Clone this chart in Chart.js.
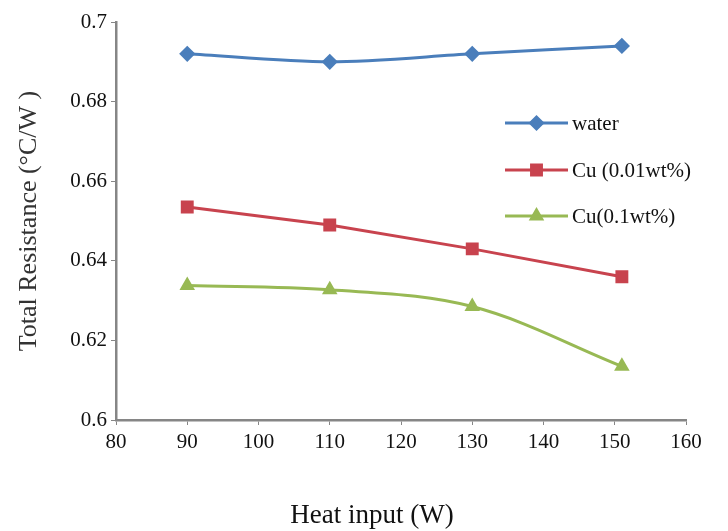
<!DOCTYPE html>
<html lang="en">
<head>
  <meta charset="UTF-8">
  <title>Total Resistance vs Heat input</title>
  <script src="https://cdn.jsdelivr.net/npm/chart.js"></script>
  <style>
    html, body { margin: 0; padding: 0; background: #fff; }
    #wrap { width: 728px; height: 531px; }
  </style>
</head>
<body>
  <div id="wrap"><canvas id="resistanceChart"></canvas></div>
  <script>
    // heat input (W)
    const heatInput = [90, 110, 130, 151];
    // total resistance (°C/W)
    const water = [0.692, 0.690, 0.692, 0.694];
    const cu001 = [0.6535, 0.649, 0.643, 0.636];
    const cu01 = [0.6338, 0.6327, 0.6285, 0.6135];
    const seriesNames = ['water', 'Cu (0.01wt%)', 'Cu(0.1wt%)'];
    const xTitle = 'Heat input (W)';
    const yTitle = 'Total Resistance (°C/W )';

    const toPoints = (vals) => vals.map((v, i) => ({ x: heatInput[i], y: v }));
    const axisGray = '#868686';
    const serif = '"Liberation Serif", "Times New Roman", serif';

    // legend drawn inside the plot, right side
    const insideLegend = {
      id: 'insideLegend',
      afterDraw(chart) {
        const ctx = chart.ctx;
        const x0 = 505, x1 = 568;
        const rows = [123, 170, 216];
        chart.data.datasets.forEach((ds, i) => {
          const y = rows[i];
          ctx.save();
          ctx.strokeStyle = ds.borderColor;
          ctx.lineWidth = 3;
          ctx.beginPath();
          ctx.moveTo(x0, y);
          ctx.lineTo(x1, y);
          ctx.stroke();
          ctx.fillStyle = ds.pointBackgroundColor;
          ctx.strokeStyle = ds.pointBackgroundColor;
          Chart.helpers.drawPoint(ctx, {
            pointStyle: ds.pointStyle,
            radius: ds.pointRadius,
            rotation: ds.pointRotation || 0,
            borderWidth: 1
          }, (x0 + x1) / 2, y);
          ctx.fillStyle = '#111';
          ctx.font = '21px ' + serif;
          ctx.textBaseline = 'middle';
          ctx.fillText(ds.label, x1 + 4, y + 1);
          ctx.restore();
        });
      }
    };

    // x axis title sits a bit left of the plot centre in the original
    const xTitlePlugin = {
      id: 'xTitlePlugin',
      afterDraw(chart) {
        const ctx = chart.ctx;
        ctx.save();
        ctx.fillStyle = '#111';
        ctx.font = '27px ' + serif;
        ctx.textAlign = 'center';
        ctx.textBaseline = 'middle';
        ctx.fillText(xTitle, 372, 516);
        ctx.restore();
      }
    };

    new Chart(document.getElementById('resistanceChart'), {
      type: 'line',
      data: {
        datasets: [
          {
            label: seriesNames[0],
            data: toPoints(water),
            borderColor: '#4a7ebb',
            pointBackgroundColor: '#4a7ebb',
            pointBorderColor: '#4a7ebb',
            pointStyle: 'rectRot',
            pointRadius: 6,
            borderWidth: 3,
            tension: 0.3
          },
          {
            label: seriesNames[1],
            data: toPoints(cu001),
            borderColor: '#c8434e',
            pointBackgroundColor: '#c8434e',
            pointBorderColor: '#c8434e',
            pointStyle: 'rect',
            pointRadius: 7,
            borderWidth: 3,
            tension: 0
          },
          {
            label: seriesNames[2],
            data: toPoints(cu01),
            borderColor: '#98b954',
            pointBackgroundColor: '#98b954',
            pointBorderColor: '#98b954',
            pointStyle: 'triangle',
            pointRadius: 6,
            borderWidth: 3,
            tension: 0.35
          }
        ]
      },
      options: {
        responsive: true,
        maintainAspectRatio: false,
        animation: false,
        layout: { padding: { top: 22, right: 42, left: 0, bottom: 0 } },
        plugins: {
          legend: { display: false },
          tooltip: { enabled: false }
        },
        scales: {
          x: {
            type: 'linear',
            min: 80,
            max: 160,
            ticks: {
              stepSize: 10,
              color: '#111',
              font: { family: serif, size: 21 },
              padding: 5
            },
            grid: { drawOnChartArea: false, color: axisGray, tickLength: 5, lineWidth: 1 },
            border: { color: axisGray, width: 2.5 },
            title: { display: false },
            afterFit(scale) { scale.height = 111; }
          },
          y: {
            min: 0.6,
            max: 0.7,
            ticks: {
              stepSize: 0.02,
              color: '#111',
              font: { family: serif, size: 21 },
              padding: 4,
              callback: (v) => parseFloat(v.toFixed(2))
            },
            grid: { drawOnChartArea: false, color: axisGray, tickLength: 5, lineWidth: 1 },
            border: { color: axisGray, width: 2.5 },
            title: {
              display: true,
              text: yTitle,
              color: '#333',
              font: { family: serif, size: 26 },
              padding: { top: 14, bottom: 0 }
            },
            afterFit(scale) { scale.width = 116; }
          }
        }
      },
      plugins: [insideLegend, xTitlePlugin]
    });
  </script>
</body>
</html>
